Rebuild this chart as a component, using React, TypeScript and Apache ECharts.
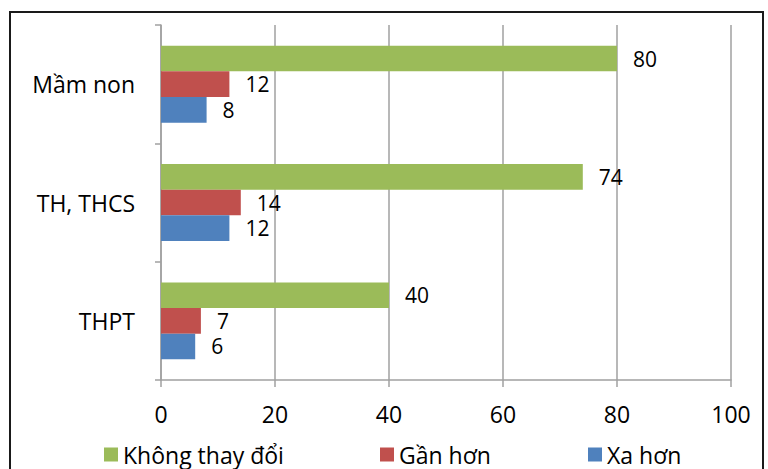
import React, { useEffect, useRef } from "react";
import * as echarts from "echarts";

// School levels, top to bottom
const categories = ["Mầm non", "TH, THCS", "THPT"];

// Series names as shown in the legend
const seriesNames = ["Không thay đổi", "Gần hơn", "Xa hơn"];

// Values per school level (same order as categories)
const khongThayDoi = [80, 74, 40];
const ganHon = [12, 14, 7];
const xaHon = [8, 12, 6];

const xTicks = { min: 0, max: 100, interval: 20 };

const colors = ["#9BBB59", "#C0504D", "#4F81BD"];
const FONT = "'Open Sans', sans-serif";

export default function App() {
  const ref = useRef<HTMLDivElement>(null);

  useEffect(() => {
    document.body.style.margin = "0";
    if (!ref.current) return;
    const chart = echarts.init(ref.current, null, { renderer: "svg" });

    const values = [khongThayDoi, ganHon, xaHon];
    const legendLefts = [104, 380, 588];

    chart.setOption({
      animation: false,
      backgroundColor: "#ffffff",
      textStyle: { fontFamily: FONT },
      grid: { left: 161, right: 37, top: 25, bottom: 89, containLabel: false },
      graphic: [
        {
          type: "rect",
          shape: { x: 10, y: 12, width: 753, height: 480 },
          style: { fill: "none", stroke: "#1a1a1a", lineWidth: 2 },
          silent: true,
          z: 100,
        },
      ],
      legend: seriesNames.map((name, i) => ({
        data: [name],
        left: legendLefts[i],
        top: 443,
        icon: "rect",
        itemWidth: 14,
        itemHeight: 14,
        itemGap: 0,
        padding: 0,
        textStyle: { fontFamily: FONT, fontSize: 23, color: "#000" },
      })),
      xAxis: {
        type: "value",
        min: xTicks.min,
        max: xTicks.max,
        interval: xTicks.interval,
        axisLine: { show: true, lineStyle: { color: "#a0a0a0", width: 1.5 } },
        axisTick: { show: true, length: 7, lineStyle: { color: "#a0a0a0", width: 1.5 } },
        splitLine: { show: true, lineStyle: { color: "#a0a0a0", width: 1.5 } },
        axisLabel: { fontFamily: FONT, fontSize: 23, color: "#000", margin: 22 },
      },
      yAxis: {
        type: "category",
        data: categories,
        inverse: true,
        axisLine: { show: true, lineStyle: { color: "#a0a0a0", width: 1.5 } },
        axisTick: { show: true, length: 6, lineStyle: { color: "#a0a0a0", width: 1.5 } },
        axisLabel: { fontFamily: FONT, fontSize: 23, color: "#000", margin: 26 },
      },
      series: seriesNames.map((name, i) => ({
        name,
        type: "bar",
        data: values[i],
        barGap: "0%",
        barCategoryGap: "35%",
        itemStyle: { color: colors[i] },
        label: {
          show: true,
          position: "right",
          distance: 16,
          fontFamily: FONT,
          fontSize: 21,
          color: "#000",
        },
      })),
    });

    return () => chart.dispose();
  }, []);

  return <div ref={ref} style={{ width: 768, height: 469 }} />;
}
